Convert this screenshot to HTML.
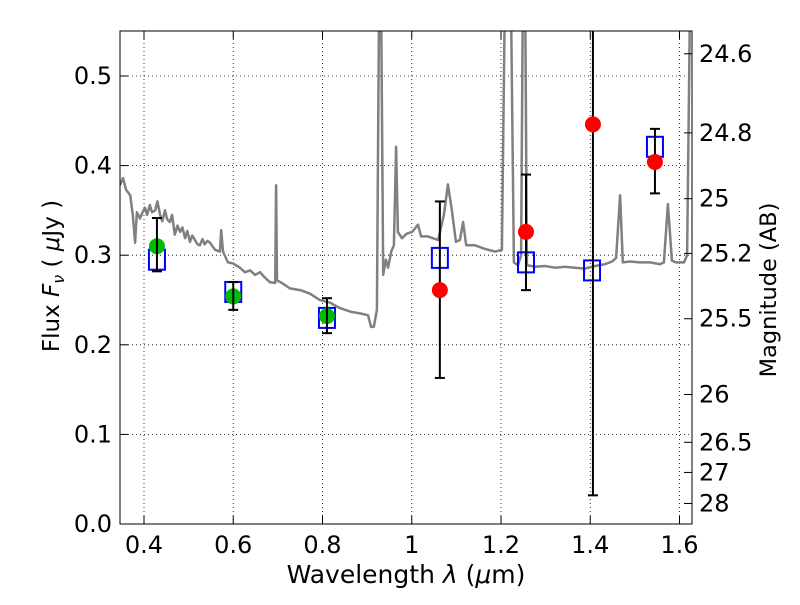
<!DOCTYPE html>
<html><head><meta charset="utf-8"><style>
body{margin:0;background:#fff;}
svg text{font-family:"DejaVu Sans","Liberation Sans",sans-serif;}
</style></head><body>
<svg id="chart" width="800" height="600" xmlns="http://www.w3.org/2000/svg">
<defs><clipPath id="clip"><rect x="120" y="31" width="572" height="493"/></clipPath></defs>
<rect x="0" y="0" width="800" height="600" fill="#fff"/>
<g id="grid"></g>
<g id="spec" clip-path="url(#clip)"></g>
<g id="marks" clip-path="url(#clip)"></g>
<rect x="120" y="31" width="572" height="493" fill="none" stroke="#000" stroke-width="1"/>
<g id="axes"></g>
<text x="406" y="583" font-size="25" text-anchor="middle">Wavelength  <tspan font-style="italic">λ</tspan> (<tspan font-style="italic">μ</tspan>m)</text>
<text transform="translate(59,276) rotate(-90)" font-size="23" text-anchor="middle">Flux  <tspan font-style="italic">F</tspan><tspan font-style="italic" font-size="16" dy="5">ν</tspan><tspan dy="-5">  ( </tspan><tspan font-style="italic">μ</tspan>Jy )</text>
<text transform="translate(776,290) rotate(-90)" font-size="22.5" text-anchor="middle">Magnitude (AB)</text>
</svg>
<script>
const xTicks=[0.4,0.6,0.8,1.0,1.2,1.4,1.6];
const xTickLabels=["0.4","0.6","0.8","1","1.2","1.4","1.6"];
const yTicks=[0,0.1,0.2,0.3,0.4,0.5];
const yTickLabels=["0.0","0.1","0.2","0.3","0.4","0.5"];
const magTicks=[24.6,24.8,25,25.2,25.5,26,26.5,27,28];
const magTickLabels=["24.6","24.8","25","25.2","25.5","26","26.5","27","28"];
const specW=[0.346,0.353,0.360,0.369,0.375,0.380,0.384,0.391,0.396,0.402,0.407,0.413,0.418,0.425,0.430,0.436,0.441,0.447,0.452,0.458,0.463,0.469,0.475,0.481,0.486,0.492,0.497,0.503,0.508,0.514,0.520,0.525,0.531,0.536,0.542,0.548,0.559,0.570,0.573,0.577,0.588,0.599,0.615,0.626,0.638,0.649,0.660,0.671,0.682,0.694,0.696,0.698,0.709,0.727,0.750,0.772,0.794,0.817,0.839,0.862,0.884,0.902,0.909,0.915,0.922,0.927,0.931,0.936,0.942,0.947,0.954,0.960,0.965,0.969,0.978,0.989,1.001,1.014,1.021,1.036,1.059,1.072,1.081,1.090,1.099,1.108,1.115,1.122,1.142,1.164,1.187,1.202,1.209,1.222,1.229,1.238,1.245,1.249,1.254,1.258,1.276,1.299,1.321,1.343,1.366,1.388,1.411,1.433,1.449,1.458,1.467,1.473,1.489,1.511,1.534,1.556,1.565,1.574,1.583,1.592,1.610,1.617,1.624,1.640];
const specF=[0.378,0.386,0.373,0.367,0.345,0.314,0.348,0.341,0.347,0.353,0.345,0.356,0.348,0.350,0.360,0.345,0.338,0.350,0.340,0.337,0.345,0.323,0.333,0.326,0.331,0.319,0.327,0.315,0.322,0.317,0.312,0.311,0.318,0.312,0.316,0.314,0.306,0.304,0.328,0.304,0.292,0.291,0.286,0.281,0.283,0.278,0.281,0.275,0.270,0.269,0.378,0.272,0.269,0.263,0.261,0.257,0.250,0.247,0.241,0.237,0.235,0.233,0.220,0.220,0.239,0.600,0.600,0.278,0.295,0.286,0.304,0.311,0.421,0.326,0.319,0.324,0.326,0.334,0.321,0.321,0.317,0.345,0.379,0.350,0.315,0.317,0.337,0.311,0.311,0.307,0.304,0.306,0.600,0.600,0.292,0.289,0.300,0.600,0.600,0.289,0.287,0.288,0.286,0.287,0.286,0.285,0.288,0.290,0.293,0.297,0.367,0.292,0.293,0.292,0.292,0.290,0.292,0.357,0.294,0.292,0.292,0.300,0.600,0.600];
const modelW=[0.429,0.600,0.810,1.063,1.256,1.404,1.545];
const modelF=[0.295,0.259,0.230,0.297,0.292,0.283,0.421];
const greenW=[0.429,0.600,0.810];
const greenF=[0.310,0.254,0.232];
const greenHi=[0.3415,0.270,0.252];
const greenLo=[0.282,0.239,0.213];
const redW=[1.063,1.256,1.406,1.545];
const redF=[0.261,0.326,0.446,0.404];
const redHi=[0.360,0.390,0.700,0.441];
const redLo=[0.163,0.261,0.032,0.369];

const NS="http://www.w3.org/2000/svg";
const X=w=>144+(w-0.4)*446.25;
const Y=f=>524-f*896;
const magY=m=>Y(Math.pow(10,(23.9-m)/2.5));
function mk(parent,tag,attrs){const e=document.createElementNS(NS,tag);for(const k in attrs)e.setAttribute(k,attrs[k]);document.getElementById(parent).appendChild(e);return e;}

xTicks.forEach((t,i)=>{
  const x=X(t);
  if(x>121&&x<691){const g=mk('grid','line',{x1:x,x2:x,y1:31,y2:524,stroke:'#000','stroke-width':0.8,'stroke-dasharray':'1,3'});
  
  }
  const t1=mk('axes','line',{x1:x,x2:x,y1:524,y2:516,stroke:'#000'});
  
  
  const t2=mk('axes','line',{x1:x,x2:x,y1:31,y2:39,stroke:'#000'});
  
  
  const l=mk('axes','text',{x:x,y:553,'font-size':24,'text-anchor':'middle'});l.textContent=xTickLabels[i];
  
  
});
yTicks.forEach((t,i)=>{
  const y=Y(t);
  if(y>32&&y<523){const g=mk('grid','line',{x1:120,x2:692,y1:y,y2:y,stroke:'#000','stroke-width':0.8,'stroke-dasharray':'1,3'});
  
  }
  const t1=mk('axes','line',{x1:120,x2:128,y1:y,y2:y,stroke:'#000'});
  
  
  const l=mk('axes','text',{x:112,y:y+8,'font-size':24,'text-anchor':'end'});l.textContent=yTickLabels[i];
  
  
});
magTicks.forEach((m,i)=>{
  const y=magY(m);
  const t1=mk('axes','line',{x1:692,x2:684,y1:y,y2:y,stroke:'#000'});
  
  
  const l=mk('axes','text',{x:699,y:y+8,'font-size':24});l.textContent=magTickLabels[i];
  
  
});

const pts=specW.map((w,i)=>X(w).toFixed(1)+','+Y(specF[i]).toFixed(1)).join(' ');
const sp=mk('spec','polyline',{points:pts,fill:'none',stroke:'#808080','stroke-width':2.5,'stroke-linejoin':'round'});



modelW.forEach((w,i)=>{
  const r=mk('marks','rect',{x:X(w)-8,y:Y(modelF[i])-10,width:16,height:20,fill:'none',stroke:'#0000ff','stroke-width':2});
  
  
});
function errbar(w,lo,hi){
  const x=X(w),y1=Y(lo),y2=Y(hi);
  const l=mk('marks','line',{x1:x,x2:x,y1:y1,y2:y2,stroke:'#000','stroke-width':2});
  
  
  [y1,y2].forEach(y=>{const c=mk('marks','line',{x1:x-5,x2:x+5,y1:y,y2:y,stroke:'#000','stroke-width':2});
  
  });
}
greenW.forEach((w,i)=>{
  const c=mk('marks','circle',{cx:X(w),cy:Y(greenF[i]),r:8,fill:'#00bb00'});
  
  
  errbar(w,greenLo[i],greenHi[i]);
});
redW.forEach((w,i)=>{
  errbar(w,redLo[i],redHi[i]);
  const c=mk('marks','circle',{cx:X(w),cy:Y(redF[i]),r:8,fill:'#ff0000'});
  
  
});
</script>
</body></html>
